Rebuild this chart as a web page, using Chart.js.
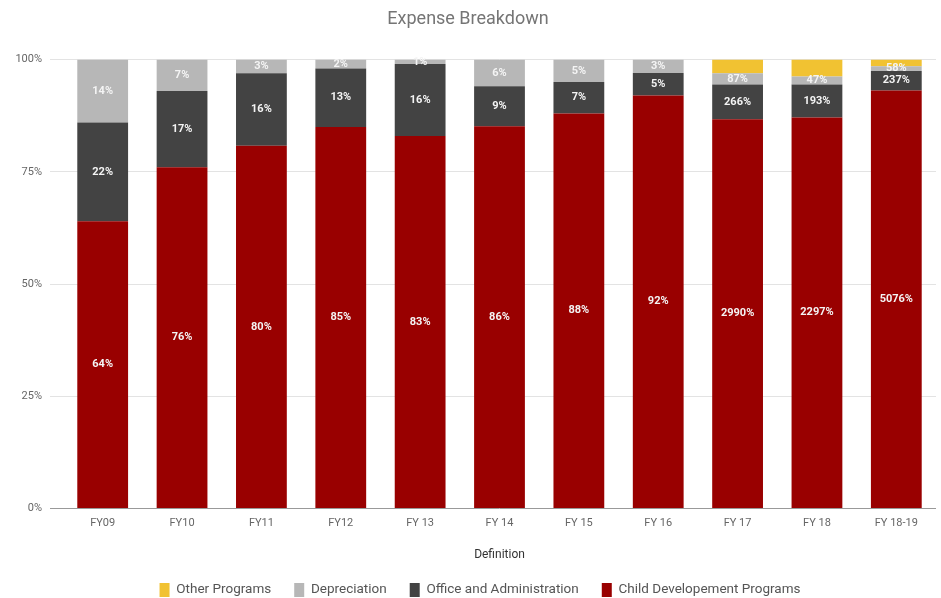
<!DOCTYPE html>
<html>
<head>
<meta charset="utf-8">
<script src="https://cdn.jsdelivr.net/npm/chart.js@4.4.1/dist/chart.umd.min.js"></script>
<style>
  html, body { margin: 0; padding: 0; background: #fff; }
  #wrap { width: 941px; height: 598px; }
</style>
</head>
<body>
<div id="wrap"><canvas id="expenseChart" width="941" height="598"></canvas></div>
<script>
const categories = ['FY09', 'FY10', 'FY11', 'FY12', 'FY 13', 'FY 14', 'FY 15', 'FY 16', 'FY 17', 'FY 18', 'FY 18-19'];
const childDev = [64, 76, 80, 85, 83, 86, 88, 92, 2990, 2297, 5076];
const officeAdmin = [22, 17, 16, 13, 16, 9, 7, 5, 266, 193, 237];
const depreciation = [14, 7, 3, 2, 1, 6, 5, 3, 87, 47, 58];
const otherPrograms = [0, 0, 0, 0, 0, 0, 0, 0, 105, 100, 80];
const yTicks = [0, 25, 50, 75, 100];

const totals = categories.map((c, i) => childDev[i] + officeAdmin[i] + depreciation[i] + otherPrograms[i]);
const share = arr => arr.map((v, i) => v / totals[i] * 100);

const series = [
    { label: 'Child Developement Programs', raw: childDev, color: '#990000', showLabel: true },
    { label: 'Office and Administration', raw: officeAdmin, color: '#434343', showLabel: true },
    { label: 'Depreciation', raw: depreciation, color: '#b7b7b7', showLabel: true },
    { label: 'Other Programs', raw: otherPrograms, color: '#f1c232', showLabel: false }
];

// draws the value labels in the middle of each segment
const segmentLabels = {
    id: 'segmentLabels',
    afterDatasetsDraw(chart) {
        const ctx = chart.ctx;
        ctx.save();
        ctx.font = 'bold 11px Roboto';
        ctx.fillStyle = '#f4f4f4';
        ctx.textAlign = 'center';
        ctx.textBaseline = 'middle';
        chart.data.datasets.forEach((ds, di) => {
            if (!series[di].showLabel) return;
            const meta = chart.getDatasetMeta(di);
            meta.data.forEach((bar, i) => {
                const raw = series[di].raw[i];
                if (!raw) return;
                const p = bar.getProps(['x', 'y', 'base'], true);
                ctx.fillText(raw + '%', p.x, (p.y + p.base) / 2);
            });
        });
        ctx.restore();
    }
};

// wide gaps between legend items but a short legend box
const legendHeight = {
    id: 'legendHeight',
    beforeInit(chart) {
        const lg = chart.legend;
        if (!lg) return;
        const fit = lg.fit.bind(lg);
        const draw = lg.draw.bind(lg);
        lg.fit = function () {
            fit();
            this.height = 34;
        };
        lg.draw = function () {
            const { top, left, right } = this;
            this.top = top - 4;
            this.left = left + 12;
            this.right = right + 12;
            draw();
            this.top = top;
            this.left = left;
            this.right = right;
        };
    }
};

new Chart(document.getElementById('expenseChart'), {
    type: 'bar',
    data: {
        labels: categories,
        datasets: series.map(s => ({
            label: s.label,
            data: share(s.raw),
            backgroundColor: s.color,
            borderWidth: 0,
            categoryPercentage: 1,
            barPercentage: 0.64
        }))
    },
    options: {
        responsive: false,
        animation: false,
        layout: { padding: { left: 0, right: 5, top: 0, bottom: 0 } },
        plugins: {
            tooltip: { enabled: false },
            title: {
                display: true,
                text: 'Expense Breakdown',
                color: '#757575',
                font: { family: 'Roboto', size: 18, weight: 'normal' },
                padding: { top: 9, bottom: 29 }
            },
            legend: {
                position: 'bottom',
                reverse: true,
                labels: {
                    color: '#555',
                    font: { family: 'Roboto', size: 13.5 },
                    boxWidth: 10,
                    boxHeight: 14,
                    padding: 23
                }
            }
        },
        scales: {
            x: {
                stacked: true,
                grid: { display: false },
                border: { display: false },
                ticks: { color: '#666', font: { family: 'Roboto', size: 11 }, padding: 0 },
                title: {
                    display: true,
                    text: 'Definition',
                    color: '#333',
                    font: { family: 'Roboto', size: 12 },
                    padding: { top: 18, bottom: 2 }
                }
            },
            y: {
                stacked: true,
                min: 0,
                max: 100,
                afterFit: scale => { scale.width = 63; },
                afterBuildTicks: scale => { scale.ticks = yTicks.map(v => ({ value: v })); },
                border: { display: false },
                grid: {
                    color: c => c.tick && c.tick.value === 0 ? '#999' : '#e3e3e3',
                    tickLength: 13,
                    drawTicks: true
                },
                ticks: {
                    color: '#666',
                    font: { family: 'Roboto', size: 11 },
                    padding: 8,
                    callback: v => v + '%'
                }
            }
        }
    },
    plugins: [segmentLabels, legendHeight]
});
</script>
</body>
</html>
